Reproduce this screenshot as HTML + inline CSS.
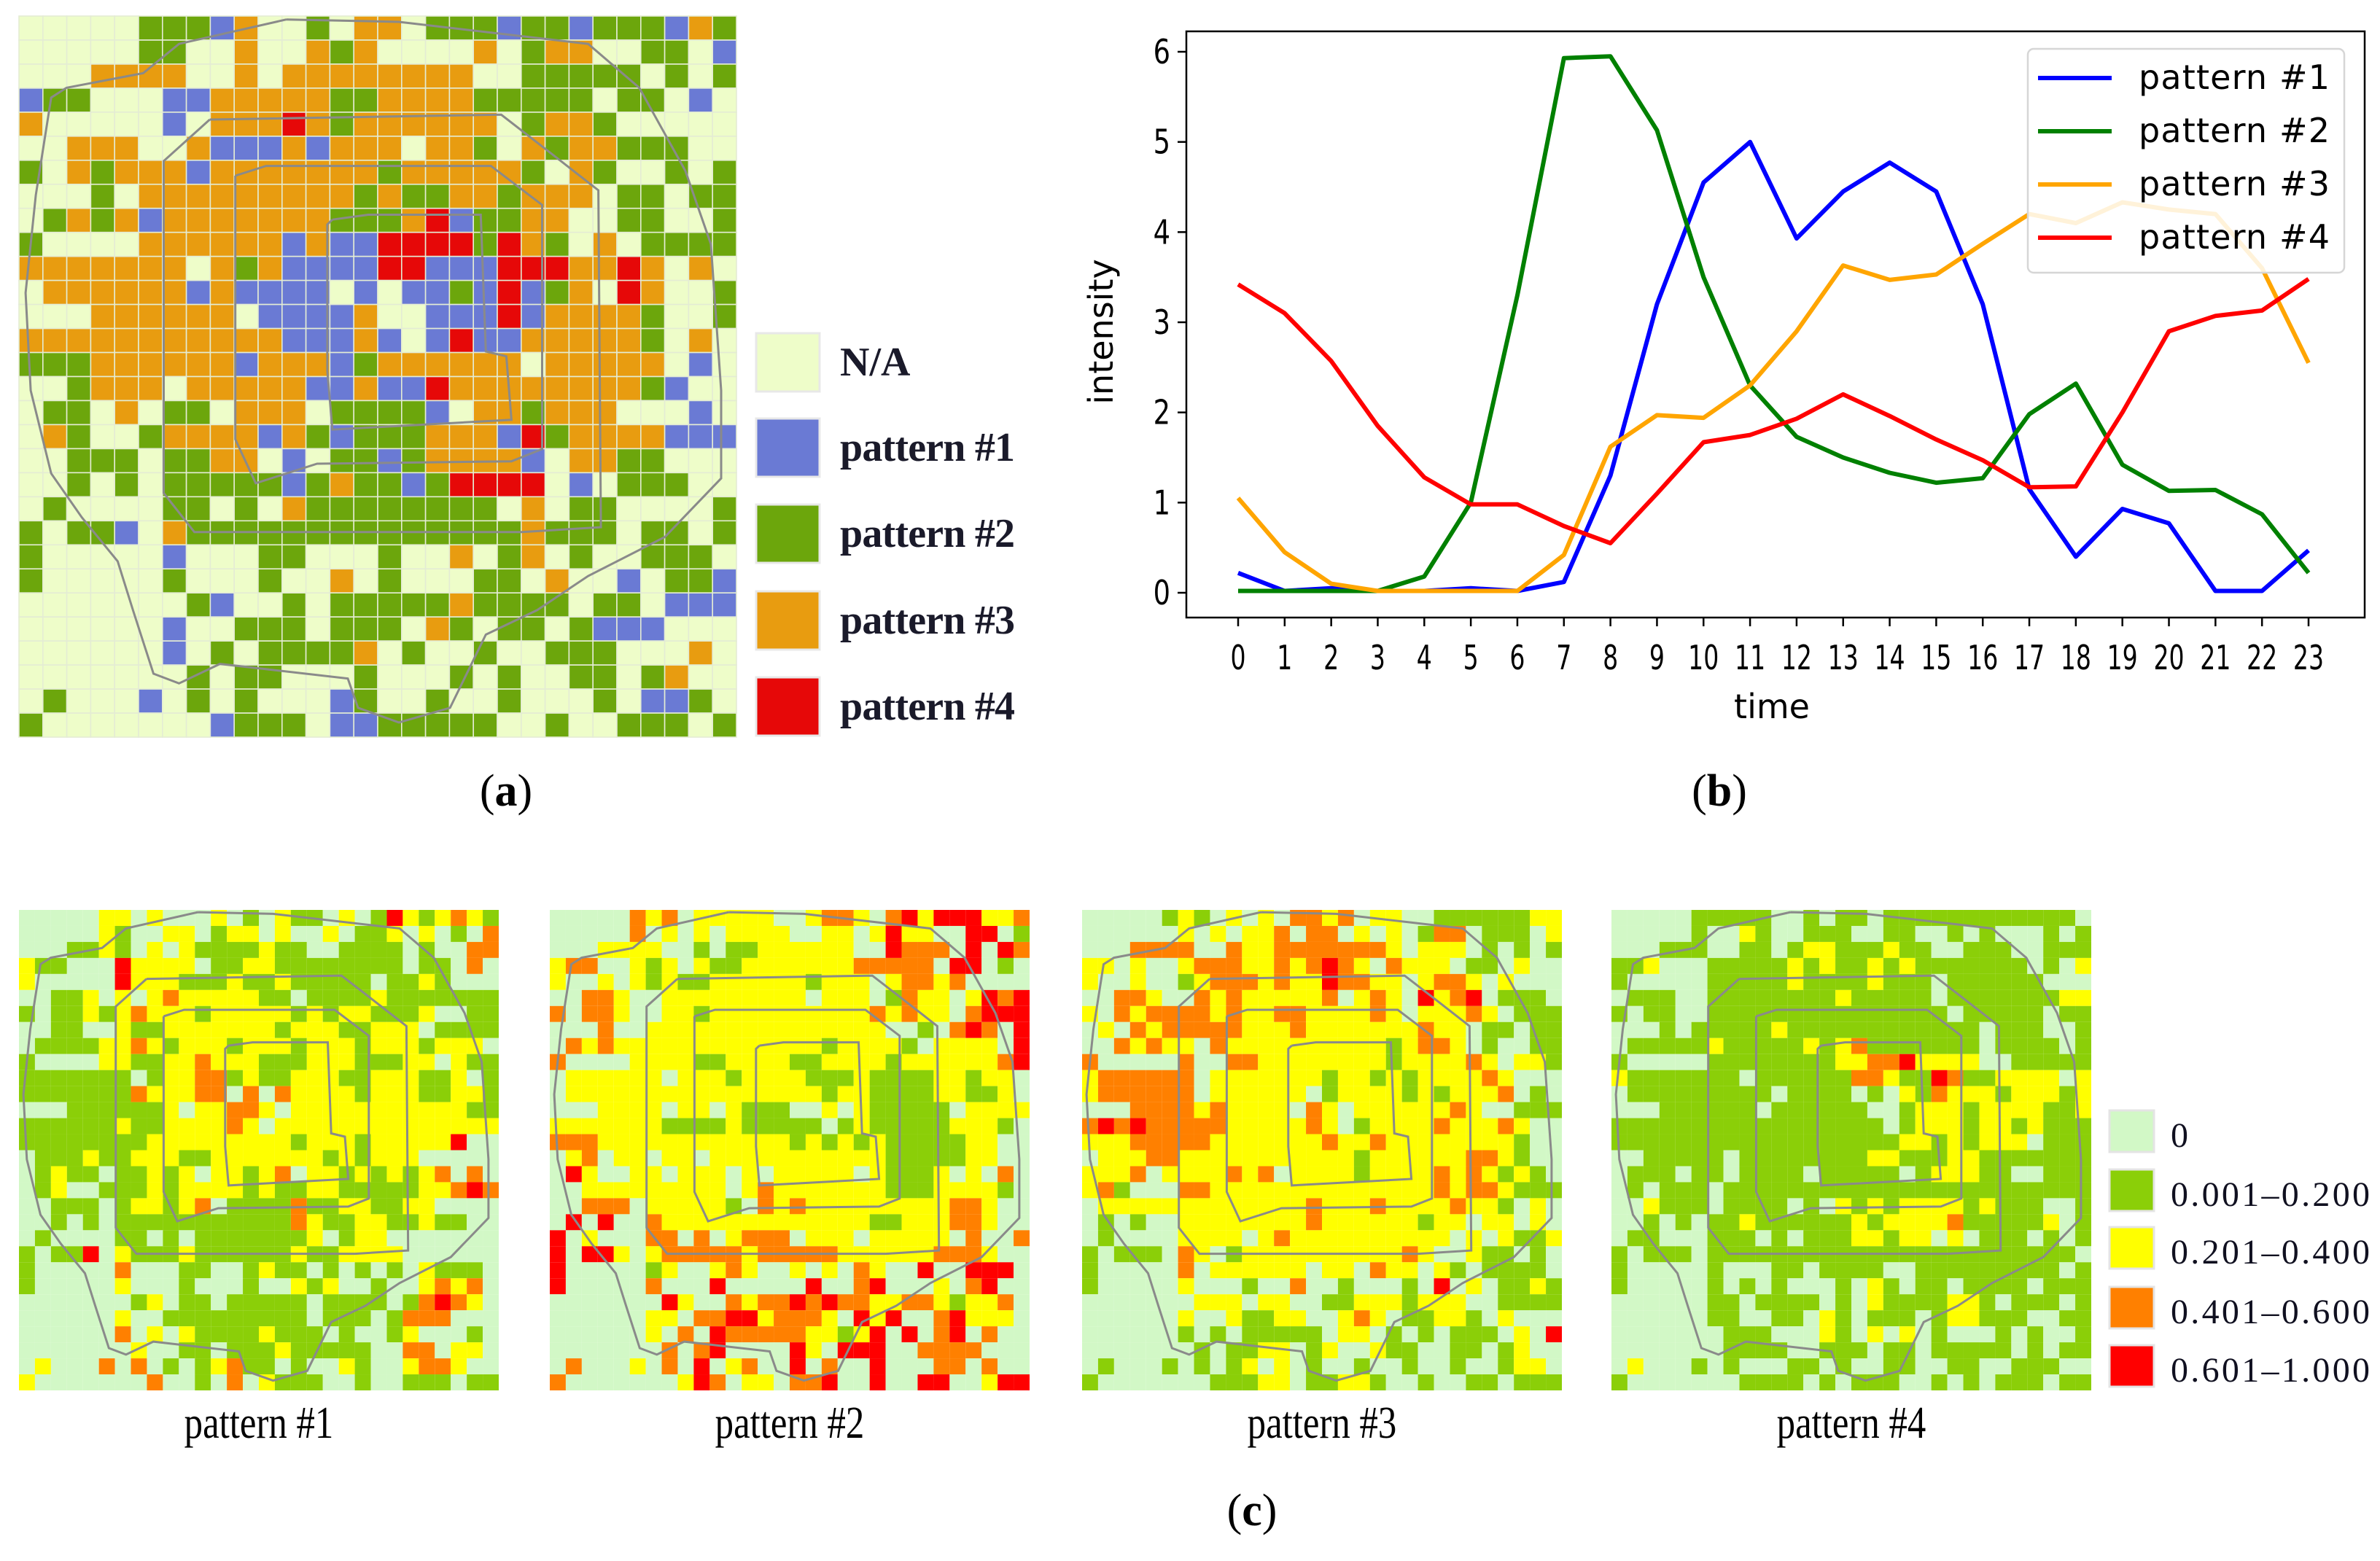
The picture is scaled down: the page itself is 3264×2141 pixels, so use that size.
<!DOCTYPE html>
<html><head><meta charset="utf-8"><style>
html,body{margin:0;padding:0;background:#fff;}
svg{display:block;}
text{font-family:"Liberation Serif",serif;}
.mpl{font-family:"DejaVu Sans","Liberation Sans",sans-serif;}
</style></head><body>
<svg id="root" width="3264" height="2141" viewBox="0 0 3264 2141" xmlns="http://www.w3.org/2000/svg">
<rect x="0" y="0" width="3264" height="2141" fill="#fff"/>
<g id="mapA"></g>
<g id="legA"></g>
<g id="chartB"></g>
<g id="mapsC"></g>
<g id="legC"></g>
<text x="694" y="1105" font-size="62" text-anchor="middle">(<tspan font-weight="bold">a</tspan>)</text>
<text x="2358" y="1105" font-size="62" text-anchor="middle">(<tspan font-weight="bold">b</tspan>)</text>
<text x="1717" y="2092" font-size="62" text-anchor="middle">(<tspan font-weight="bold">c</tspan>)</text>
</svg>
<script>
// ---------- Chart (b) data ----------
const hours = [0,1,2,3,4,5,6,7,8,9,10,11,12,13,14,15,16,17,18,19,20,21,22,23];
const pattern1 = [0.22,0.02,0.05,0.02,0.02,0.05,0.02,0.12,1.3,3.2,4.55,5.0,3.93,4.45,4.77,4.45,3.2,1.15,0.4,0.93,0.77,0.02,0.02,0.47];
const pattern2 = [0.02,0.02,0.02,0.02,0.18,1.0,3.3,5.93,5.95,5.13,3.5,2.3,1.73,1.5,1.33,1.22,1.27,1.98,2.32,1.42,1.13,1.14,0.87,0.22];
const pattern3 = [1.05,0.45,0.1,0.02,0.02,0.02,0.02,0.42,1.62,1.97,1.94,2.3,2.9,3.63,3.47,3.53,3.87,4.2,4.1,4.33,4.25,4.2,3.6,2.55];
const pattern4 = [3.42,3.1,2.57,1.85,1.28,0.98,0.98,0.74,0.55,1.1,1.67,1.75,1.93,2.2,1.96,1.7,1.47,1.17,1.18,2.0,2.9,3.07,3.13,3.48];
const yTicks = [0,1,2,3,4,5,6];
const seriesNames = ["pattern #1","pattern #2","pattern #3","pattern #4"];

// ---------- Map (a) data: . N/A, b #1, g #2, o #3, r #4 ----------
const mapARows = [
".....gggbo..g.oo.gggbggbgggbog",
".....gg..o..ogo....o.goo..gg.b",
"...oooo..o.oooooooo..ggggg.g.g",
"bgg...bboooooggooooggggg.gg.b.",
"o.....b.ooorogoooooo.goog.....",
"..ooo..obbbobooo.oog.ogooggg..",
"g.ogooobooooooogooooog.og..g.gg",
"...g.ooooooooogoggoogooo.gg.ggg".slice(0,30),
".gogobooooooogggorbggoo..gg..g",
"g....oooooobobbrrrrgrog.o.gggg",
"ooooooo.ogobbbbrrbbbrrroorо.o.".replace("о","o"),
".oooooobobbbb.b.bbgbrbgo.ro..g",
"...oooooo.bbbbo..bbbrboooog..g",
"ooooooooooobbbob.brbbooooog.o.",
"gggoooooobooobgoooooo.ooooo.b..".slice(0,30),
"..gooo.ooooobbobbroooooooogb..",
".gg.o.gg.ooo.ggggb.oogooo...b.b".slice(0,30),
".og..goooobogbgggooobrgoooobbb",
"..ggg.ggoo.b.ggbgoooob.oogg...",
"..g.g.gggggbgoggbgrrrr.b.ggg..",
".g....gg.g.ogggggggg.o.gg....gg".slice(0,30),
"g.ggb.oggggggggggggggoggg.gg.g.".slice(0,30),
"g.....b...gg...g..o.go.g..ggg.",
"g.....g...g..o.g...gg.o..b.ggb",
".......gb..g.gggggogggg.gg.bbbg".slice(0,30),
"......b..ggg.ggg.og.gg.gbbb...",
"......b.g.ggggo.g..g..ggg...o".padEnd(30,"."),
".......g.gg...g...g.g..gg.go..",
".g...b.g.g...bg..g..g...g.bbg.",
"g.......bggg.bbggggg..g..ggg.gg".slice(0,30)
];

// ---------- Maps (c) data: . 0, g 0.001-0.2, y 0.201-0.4, o 0.401-0.6, r 0.601-1 ----------
const mapC1Rows = [
".....yy.y...y.g.ygg.y.grygyoyg",
".....yg..yy.gyy.y..y.ggy.y.g.o",
"...ggyg.y.yggggygg..gggg.g..oo",
"ygg...ryyyy.ggyygggggggg.gg.o.",
"y.....ryyygggyggyggggg.ggyg...",
"..ggy.y.yoyyyyygg.ggggyggggggg",
"g.ggygyoyyygyyyyygygyygggy..gg",
"..gg..yggyyyyyyygyyyggyyy.gggg",
".ggggyyoygyyygyyygyyygyyygyyy.",
"g....yyggyyoyyygggyyygggyy.ygg",
"ggggggg.gyyoogyggyyyggyyyggy.g",
"gggggggoyyyoo.o.oyyyygyyyggyyg",
"...ggggggy.yyooy.yyyyyyyyyyygg",
"ggggggyggyyyyoy.yyyyyyyyyyyyyy",
"ggggggggyyyyyyyyygyyygyyyyyr..",
".gggyggyyyggyyyyyyygygyyy.....",
".gygg.ggygy.yygyo.yygygygyo.o.",
".gy..gggygyyyygyggyygggggyyoro",
"..ggg.gyygyo.ggggoggyyggyy....",
"..g.g.gggggggggggoyggyyggygg..",
".g....gg.g.gggggggy.gyy.......",
"g.ggr.ygggyggggggyggyyyy......",
"g.....o...gg..gygg.g.g.g.yggg.",
"g.....y...g...g..ygy..g..yoyo.",
".......gy.gg.ggggg.gggg.goroy.",
"......y..ggggggggg.ggg.gooo...",
"......o.y.yggggyggg.g..gy...g.",
".......y..gg.gggyggggg..oo.yy.",
".y...o.o.g.gyogg.g..yg..yooy..",
"y.......o..g.o.yggg..g..ggg.gg"
];
const mapC2Rows = [
".....oyo.yyyyy..yooy.oryrrryyo",
".....o.y.y.yyyy..yy.yryy..rr.g",
"...yyyy..g.ggyyyyyy..rooo.r.ro",
"yoo..ygy.yggyyyyyyyooooo.rr.g.",
"y..y.ygyggyyyyyygyyy.yooyo....",
"..ooy..yyyyyyyyy.yyy.goyy.yror",
"o.ooy..yygyyyyyyyyyyoyoyy.orrr",
"...o..yyyyyyyyyyyyyyy..g.oro.r",
".oyoyyyyyyyyyyyyygyyyyg.yyyy.r",
"o....yyyyggyyyyggyyyygyyyyyyor",
".yyyyyy.yyygyyyygggyggggyygyy.",
".yyyyyyyyyyyyyyyygyyggggyyggy.",
"...yyyy.yy.yggg..y.yggggg.yyyy",
"yyyyyyyggggyggggg.gygggggyyyg.",
"oooyyyyyyyyyyyygygygygggggyy..",
".yo.yy.yy.yyyyyyyyyyygggggyy..",
".ry..yy.yyy.y.yyyyy.ygggy.y.o.",
"..yyyyyyyyy.yoyyyyyyygggyyyyg.",
"..ooo.yyyyyg.oyoyyyyyyyyyooy..",
".r.r..oyyyyyyyyyyyyyggyyyooy..",
"r.y...oo.o.yooo.yyy.yyyyy.o..o",
"r.rry.yoooooyoooooyyyyyyoooy..",
"r.....gy..yoy..y.y.oy..r..rrr.",
"r.....o...r.....r..or...y.or..",
".......ry..oyoororooyyooygyyo.",
"......yy.oorryoooy.ryr..oryyy.",
"......y.o.roooooyygyr.r.or.o..",
".......o.or....ry.rrr..oooo...",
".o...y.o.r.yo..r.o..r...oo.o..",
"o.......yro.yy.oor..r..rr..yrr"
];
const mapC3Rows = [
".....gyg.y.y.ooyo.yy..ggggggyy",
"......y.y.yyo.oo.y.y.goo.ggg.y",
"...oooo..oyyoooooooy.yyy.g.g.g",
"yy.y..yoooyyoyoroy.oyyy.gg.y..",
"y..y..gyoooyoyyrooyy.yooy.y...",
"..ooy..oyoyyyyyo.yoy.ryor.ggg.",
"y.oyooooyoyyooyyyyoy.yyyoy.ggg",
".y.oyoooooyyyoyyyyyyyoyy.gg.gg",
"..oyoyy.oyyyyyyyyyygyooy.g..gg",
"o.....o..ooyyyyyyyygyyyyoy.yyg",
"yoooooo.yyyyyyygyygygyyyyoy...",
"yoooooo.yyyyyy.gyyyygygyyyo.g.",
"...ooooyoyyyy.oy.yyyyyyoy..ggg",
"ororoooooyyyyyoy.gyyyyoyyyoy..",
"yyyoooooyyyyyyyoyyoyyyyyyyyg..",
".yyyooyyyyyyyyyyygyyyyyyooyg..",
"yyyo.yyyyoyo.yyyygyyyyoyoygyg.",
"yog...ooyyyyyyyyyyyyyyoyooyggg",
".yyyyyyyyyyyyyoyyyoyyyyoyyg.y.",
".g.g..yyyyyyyyoyyyyyygyy.yy.y.",
".g....yyyy.yoyyyyyyyyyy.y.yggy",
"g.ggg.oy.gyyyyyyyyyyoy..ygg.g.",
"g.....o.yyyyyy.yy.oyy.yg.gggg.",
"g.....y...g..o..g...g.r.y.ggyg",
".......yyy.yy..ggyyygyyy..gggg",
"......y..yggyy..yoy.ggyyg.y...",
"......g.g.ggggg.yy.g.g.ggg.y.r",
".......g.ggyy.gy..ygg..gg.gy..",
".g...g.g.gy.y.g..g..g..g..gyy.",
"g.......gggyy.ggyyg..g..gg.ggg"
];
const mapC4Rows = [
".....ggggg..g.gg.gggggggggggg",
".....g..yg..ggg..gg..g.g...g.g",
"...ggg..gg.gyygggygg..ggg..ggg",
"ggy...gggggygyggygyggggggg.g.y",
"g.....gggggyggggyggg.gggggg...",
".ggg..ggggggggyggggg.gggggggyy",
"g.gg..ggggggggggggggg.ggggg.gg",
"...g.gggggygggggggggggg.ggg..g",
".gggggygggggygyoggggggg.gggg.g",
"g.....ggggggggyyooryyyy..ggggg",
"yggggggg.ggggggooyggroggyyyy.y",
".ggggggggg.gggg.g.ygoyyygyyygy",
"...gggggg.gggggg..gyyygyyyyggy",
"ggggggggggggggggg.gyyygyygyggg",
"ggggggggggggggggggyygygyyy.ggg",
"..ggggg.ggggggggyygggyyggggggg",
".ggg.gg.gggg.ggggg.gyyygg..ggg",
".g.ggg.ggggggggggggggggggggggg",
"..yggg.gggg.g.ygygyyyygyggg..g",
"..g.g.ggyggggggygyyyyogggggy.g",
".gg...ggg.g.gggyygyy.y.ggg.g.g",
"g.ggg.ggggggggggggggggggggggg.",
"g.....g...gg.gggg..ggggggggg.g",
"g.....g.g.g...g.yg.gg.gggg.ggg",
"......gg.gggg.g.yggggyyg.ggg.g",
"......gg..gg.yg.ggg.gyyggg..gg",
".......ggg...yg.y.y.g...g.g..g",
".......gggg..ggg.gg.ggggg.g.gg",
".y...g.g...gg.g..gg..gg..ggg..",
"g.......gggg.g.ggg..g.g.ggg.gg"
];

// ---------- helpers ----------
const NS = "http://www.w3.org/2000/svg";
function mk(tag, attrs, parent){
  const e = document.createElementNS(NS, tag);
  for (const k in attrs) e.setAttribute(k, attrs[k]);
  if (parent) parent.appendChild(e);
  return e;
}
function norm(rows){ return rows.map(r => (r+"..............................").slice(0,30)); }

const ringPts = [
 [[560,40],[780,45],[1150,90],[1250,180],[1340,350],[1390,500],[1410,800],[1410,980],[1300,1100],[1150,1180],[1050,1250],[950,1300],[880,1450],[780,1480],[700,1450],[680,1390],[430,1360],[350,1400],[300,1380],[260,1250],[230,1150],[160,1060],[100,970],[60,800],[50,600],[70,400],[100,200],[130,180],[280,150],[350,90],[560,40]],
 [[410,245],[980,235],[1060,300],[1170,390],[1175,1080],[1020,1090],[380,1090],[320,1010],[320,330],[410,245]],
 [[460,360],[520,340],[960,340],[1060,420],[1060,920],[1000,945],[620,950],[500,990],[460,900],[460,360]],
 [[650,450],[720,440],[940,440],[950,720],[990,730],[1000,860],[650,880],[640,760],[640,460],[650,450]]
];
function drawRings(g, x0, y0, w, h, name){
  ringPts.forEach((pts, i) => {
    const d = pts.map((p, j) => (j ? "L" : "M") + (x0 + (p[0]-37)/1403*w).toFixed(1) + " " + (y0 + (p[1]-33)/1477*h).toFixed(1)).join(" ");
    const p = mk("path", {d: d, fill: "none", stroke: "#8a8a8a", "stroke-width": 3}, g);
    
    
  });
}
function drawGrid(g, rows, colors, x0, y0, w, h, gridStroke, name){
  rows = norm(rows);
  const n = rows.length, cw = w/30, ch = h/n;
  rows.forEach((row, r) => {
    for (let c = 0; c < 30; c++){
      const col = colors[row[c]] || colors["."];
      const rc = mk("rect", {x: (x0 + c*cw).toFixed(2), y: (y0 + r*ch).toFixed(2), width: cw.toFixed(2), height: ch.toFixed(2), fill: col, stroke: gridStroke, "stroke-width": gridStroke === "none" ? 0 : 1.6}, g);
      
      
    }
  });
}

// ---------- Map (a) ----------
const colA = {".":"#eefdc9","b":"#6a7ad4","g":"#6ca60c","o":"#e89c10","r":"#e60808"};
drawGrid(document.getElementById("mapA"), mapARows, colA, 26, 22, 984, 989, "#e4ecd4", "map-a");
drawRings(document.getElementById("mapA"), 26, 22, 984, 989, "map-a");

const legALabels = ["N/A","pattern #1","pattern #2","pattern #3","pattern #4"];
const legAKeys = [".","b","g","o","r"];
const legATop = [457,574,692,811,929];
const legA = document.getElementById("legA");
legALabels.forEach((lab, i) => {
  const r = mk("rect", {x:1037, y:legATop[i], width:87, height:80, fill:colA[legAKeys[i]], stroke:"#e8e8e8", "stroke-width":3}, legA);
  
  
  const t = mk("text", {x:1152, y:legATop[i]+58, "font-size":56, "font-weight":"bold", fill:"#1a1a2a"}, legA);
  t.textContent = lab;
  if (i > 0) t.setAttribute("textLength", 240);
  
  
});

// ---------- Chart (b) ----------
const chart = document.getElementById("chartB");
const AX = {l:1627, r:3243, t:43, b:847};
function xScale(h){ return 1698 + h*(3166-1698)/23; }
function yScale(v){ return 813 - v*(813-71)/6; }
const frame = mk("rect", {x:AX.l, y:AX.t, width:AX.r-AX.l, height:AX.b-AX.t, fill:"#fff", stroke:"#000", "stroke-width":2.5}, chart);


yTicks.forEach(v => {
  const y = yScale(v);
  const tk = mk("line", {x1:AX.l-12, x2:AX.l, y1:y, y2:y, stroke:"#000", "stroke-width":2.5}, chart);
  
  
  const t = mk("text", {x:AX.l-22, y:y+16, "font-size":46, "text-anchor":"end", class:"mpl", fill:"#000", transform:"translate(" + (AX.l-22) + "," + (y+16) + ") scale(0.8,1) translate(" + (-(AX.l-22)) + "," + (-(y+16)) + ")"}, chart);
  t.textContent = String(v);
  
  
});
hours.forEach(h => {
  const x = xScale(h);
  const tk = mk("line", {x1:x, x2:x, y1:AX.b, y2:AX.b+12, stroke:"#000", "stroke-width":2.5}, chart);
  
  
  const t = mk("text", {x:x, y:918, "font-size":46, "text-anchor":"middle", class:"mpl", fill:"#000", transform:"translate(" + x + ",918) scale(0.72,1) translate(" + (-x) + ",-918)"}, chart);
  t.textContent = String(h);
  
  
});
const xt = mk("text", {x:2430, y:985, "font-size":46, "text-anchor":"middle", class:"mpl", fill:"#000"}, chart);
xt.textContent = "time";


const yt = mk("text", {x:1526, y:455, "font-size":46, "text-anchor":"middle", class:"mpl", fill:"#000", transform:"rotate(-90 1526 455)"}, chart);
yt.textContent = "intensity";



const seriesData = [pattern1, pattern2, pattern3, pattern4];
const seriesColors = ["#0000ff","#008000","#ffa500","#ff0000"];
seriesData.forEach((s, i) => {
  const pts = s.map((v, k) => xScale(hours[k]).toFixed(1) + "," + yScale(v).toFixed(1)).join(" ");
  const pl = mk("polyline", {points:pts, fill:"none", stroke:seriesColors[i], "stroke-width":6, "stroke-linejoin":"round"}, chart);
  
  
});
const lgB = mk("g", {}, chart);


const lbox = mk("rect", {x:2781, y:67, width:434, height:307, rx:8, fill:"#fff", "fill-opacity":0.85, stroke:"#d6d6d6", "stroke-width":2.5}, lgB);


seriesNames.forEach((nm, i) => {
  const y = 107 + i*73;
  const ln = mk("line", {x1:2795, x2:2896, y1:y, y2:y, stroke:seriesColors[i], "stroke-width":6}, lgB);
  
  
  const t = mk("text", {x:2933, y:y+15, "font-size":46, class:"mpl", fill:"#000", textLength:262}, lgB);
  t.textContent = nm;
  
  
});

// ---------- Maps (c) ----------
const colC = {".":"#d2f8c6","g":"#8bcf08","y":"#ffff00","o":"#ff8000","r":"#ff0000"};
const mapsC = [mapC1Rows, mapC2Rows, mapC3Rows, mapC4Rows];
const mapsCX = [26, 754, 1484, 2210];
const cWrap = document.getElementById("mapsC");
mapsC.forEach((rows, i) => {
  const g = mk("g", {}, cWrap);
  
  
  drawGrid(g, rows, colC, mapsCX[i], 1248, 658, 659, "none", "heatmap-" + (i+1));
  drawRings(g, mapsCX[i], 1248, 658, 659, "heatmap-" + (i+1));
  const cx = mapsCX[i]+329;
  const t = mk("text", {x:cx, y:1972, "font-size":62, "text-anchor":"middle", fill:"#000", transform:"translate(" + cx + ",1972) scale(0.82,1) translate(" + (-cx) + ",-1972)"}, cWrap);
  t.textContent = "pattern #" + (i+1);
  
  
});
const legCLabels = ["0","0.001\u20130.200","0.201\u20130.400","0.401\u20130.600","0.601\u20131.000"];
const legCKeys = [".","g","y","o","r"];
const legCTop = [1523,1604,1683,1765,1845];
const legC = document.getElementById("legC");
legCLabels.forEach((lab, i) => {
  const r = mk("rect", {x:2893, y:legCTop[i], width:61, height:57, fill:colC[legCKeys[i]], stroke:"#e4e4e4", "stroke-width":3}, legC);
  
  
  const t = mk("text", {x:2977, y:legCTop[i]+50, "font-size":48, fill:"#101020"}, legC);
  t.textContent = lab;
  if (i > 0) t.setAttribute("textLength", 273);
  
  
});
</script>
</body></html>
